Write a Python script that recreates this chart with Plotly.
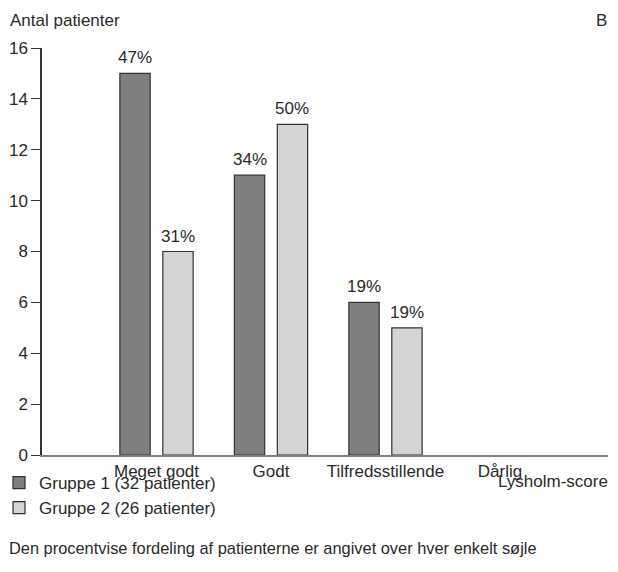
import plotly.graph_objects as go

categories = ["Meget godt", "Godt", "Tilfredsstillende", "Dårlig"]
gruppe1 = [15, 11, 6, 0]
gruppe2 = [8, 13, 5, 0]
pct1 = ["47%", "34%", "19%", ""]
pct2 = ["31%", "50%", "19%", ""]
series_names = ["Gruppe 1 (32 patienter)", "Gruppe 2 (26 patienter)"]
y_ticks = [0, 2, 4, 6, 8, 10, 12, 14, 16]

FONT = "Liberation Sans, Arial, sans-serif"
TXT = "#2a2a2a"
W, OFF1, OFF2 = 0.265, -0.32, 0.055
# plot area in reference pixels: x 42..608 (visible part), y 48..455
PX_L, PX_T, PX_W, PX_H = 42, 48, 566, 407
CAT_PX = 114.5  # pixels per category
PAGE = 8  # browser default body margin
VIS_W = 610  # visible page width


def px(xr):
    return (xr - PX_L) / PX_W


def py(yr):
    return (PX_T + PX_H - yr) / PX_H


def line_widths(vals):
    return [1.2 if v > 0 else 0 for v in vals]


fig = go.Figure()
fig.add_trace(go.Bar(x=categories, y=gruppe1, name=series_names[0], width=W, offset=OFF1,
                     marker=dict(color="#7f7f7f", line=dict(color="#333333", width=line_widths(gruppe1)))))
fig.add_trace(go.Bar(x=categories, y=gruppe2, name=series_names[1], width=W, offset=OFF2,
                     marker=dict(color="#d4d4d4", line=dict(color="#333333", width=line_widths(gruppe2)))))

annotations = []
for i, (v, t) in enumerate(zip(gruppe1, pct1)):
    if t:
        annotations.append(dict(x=i + OFF1 + W / 2, y=v, text=t, showarrow=False,
                                yanchor="bottom", yshift=4, font=dict(size=17, color=TXT, family=FONT)))
for i, (v, t) in enumerate(zip(gruppe2, pct2)):
    if t:
        annotations.append(dict(x=i + OFF2 + W / 2, y=v, text=t, showarrow=False,
                                yanchor="bottom", yshift=4, font=dict(size=17, color=TXT, family=FONT)))

annotations += [
    dict(xref="paper", yref="paper", x=px(8), y=py(20),
         xanchor="left", yanchor="middle", text="Antal patienter", showarrow=False,
         font=dict(size=17, color=TXT, family=FONT)),
    dict(xref="paper", yref="paper", x=px(609), y=py(20),
         xanchor="right", yanchor="middle", text="B", showarrow=False,
         font=dict(size=17, color=TXT, family=FONT)),
    dict(xref="paper", yref="paper", x=px(610), y=py(481),
         xanchor="right", yanchor="middle", text="Lysholm-score", showarrow=False,
         font=dict(size=17, color=TXT, family=FONT)),
    dict(xref="paper", yref="paper", x=px(7), y=py(548),
         xanchor="left", yanchor="middle",
         text="Den procentvise fordeling af patienterne er angivet over hver enkelt søjle",
         showarrow=False, font=dict(size=16.4, color=TXT, family=FONT)),
]

FIG_W, FIG_H = VIS_W - PAGE, 572 - 2 * PAGE
fig.update_layout(
    width=FIG_W, height=FIG_H,
    margin=dict(l=PX_L - PAGE, r=FIG_W - (PX_L - PAGE) - PX_W, t=PX_T - PAGE,
                b=FIG_H - (PX_T - PAGE) - PX_H, autoexpand=False),
    paper_bgcolor="white", plot_bgcolor="white",
    font=dict(family=FONT, color=TXT, size=17),
    showlegend=True,
    legend=dict(x=px(-1), y=py(465), xanchor="left", yanchor="top",
                font=dict(size=17, color=TXT, family=FONT), tracegroupgap=0,
                bgcolor="rgba(0,0,0,0)", itemwidth=30),
    annotations=annotations,
    xaxis=dict(range=[-1, -1 + PX_W / CAT_PX], showline=True, linecolor="#808080", linewidth=2,
               ticks="", showgrid=False, zeroline=False,
               tickfont=dict(size=17, color=TXT, family=FONT)),
    yaxis=dict(range=[0, 16], tickvals=y_ticks, showline=True, linecolor="#333333", linewidth=1.5,
               ticks="outside", ticklen=9, tickcolor="#333333", tickwidth=1.2,
               showgrid=False, zeroline=False,
               tickfont=dict(size=17, color=TXT, family=FONT)),
)

fig.write_html("out.html")
